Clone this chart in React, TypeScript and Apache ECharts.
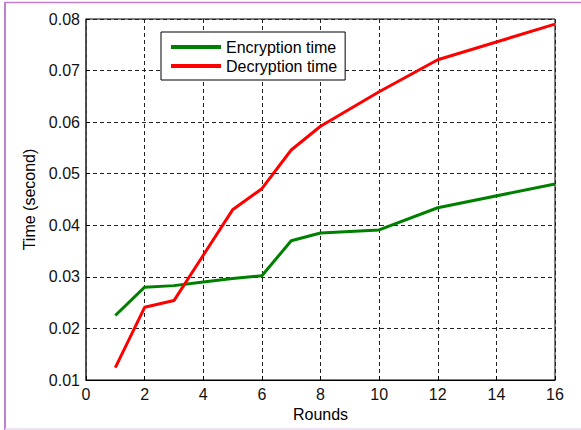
import React, { useEffect, useRef } from "react";
import * as echarts from "echarts";

const rounds = [1, 2, 3, 4, 5, 6, 7, 8, 10, 12, 16];
const encryptionTime = [0.0225, 0.0280, 0.0283, 0.0290, 0.0297, 0.0302, 0.0370, 0.0385, 0.0391, 0.0434, 0.0480];
const decryptionTime = [0.0124, 0.0241, 0.0254, 0.0342, 0.0430, 0.0471, 0.0546, 0.0592, 0.0659, 0.0721, 0.0790];
const seriesNames = ["Encryption time", "Decryption time"];

const FONT = "'Liberation Sans', Arial, sans-serif";

export default function App() {
  const ref = useRef<HTMLDivElement>(null);
  useEffect(() => {
    if (!ref.current) return;
    const chart = echarts.init(ref.current, undefined, { renderer: "svg" });
    const toPairs = (ys: number[]) => rounds.map((x, i) => [x, ys[i]]);
    chart.setOption({
      animation: false,
      backgroundColor: "#ffffff",
      textStyle: { fontFamily: FONT },
      grid: {
        left: 86,
        right: 26,
        top: 19,
        bottom: 50,
        show: true,
        borderColor: "#000",
        borderWidth: 1,
        backgroundColor: "#fff",
      },
      legend: {
        orient: "vertical",
        left: 161,
        top: 32,
        padding: [7, 8, 6, 10],
        itemGap: 3,
        itemWidth: 50,
        itemHeight: 4,
        icon: "rect",
        borderColor: "#000",
        borderWidth: 1,
        backgroundColor: "#fff",
        textStyle: { fontFamily: FONT, fontSize: 16, color: "#000" },
        data: seriesNames,
      },
      xAxis: {
        type: "value",
        min: 0,
        max: 16,
        interval: 2,
        name: "Rounds",
        nameLocation: "middle",
        nameGap: 25,
        nameTextStyle: { fontFamily: FONT, fontSize: 16, color: "#000" },
        axisLine: { show: true, lineStyle: { color: "#000", width: 1 } },
        axisTick: { show: true, inside: true, length: 4, lineStyle: { color: "#000" } },
        axisLabel: { fontFamily: FONT, fontSize: 16, color: "#111", margin: 6 },
        splitLine: { show: true, lineStyle: { type: [4, 3], color: "#222", width: 1 } },
      },
      yAxis: {
        type: "value",
        min: 0.01,
        max: 0.08,
        interval: 0.01,
        name: "Time (second)",
        nameLocation: "middle",
        nameGap: 47,
        nameTextStyle: { fontFamily: FONT, fontSize: 16, color: "#000" },
        axisLine: { show: true, lineStyle: { color: "#444", width: 1.5 } },
        axisTick: { show: true, inside: true, length: 4, lineStyle: { color: "#000" } },
        axisLabel: {
          fontFamily: FONT,
          fontSize: 16,
          color: "#111",
          margin: 6,
          formatter: (v: number) => v.toFixed(2),
        },
        splitLine: { show: true, lineStyle: { type: [4, 3], color: "#222", width: 1 } },
      },
      series: [
        {
          name: seriesNames[0],
          type: "line",
          data: toPairs(encryptionTime),
          showSymbol: false,
          lineStyle: { color: "#008000", width: 3 },
          itemStyle: { color: "#008000" },
          z: 3,
        },
        {
          name: seriesNames[1],
          type: "line",
          data: toPairs(decryptionTime),
          showSymbol: false,
          lineStyle: { color: "#ff0000", width: 3 },
          itemStyle: { color: "#ff0000" },
          z: 4,
        },
      ],
      graphic: [
        { type: "line", shape: { x1: 5, y1: 2, x2: 5, y2: 430 }, style: { stroke: "#c080d0", lineWidth: 2 } },
        { type: "line", shape: { x1: 5, y1: 2.5, x2: 581, y2: 2.5 }, style: { stroke: "#c080d0", lineWidth: 1.5 } },
        { type: "line", shape: { x1: 5, y1: 429, x2: 581, y2: 429 }, style: { stroke: "#e8d8f0", lineWidth: 1.5 } },
      ],
    });
    return () => chart.dispose();
  }, []);
  return (
    <div
      ref={ref}
      style={{ position: "absolute", left: 0, top: 0, width: 581, height: 430 }}
    />
  );
}
